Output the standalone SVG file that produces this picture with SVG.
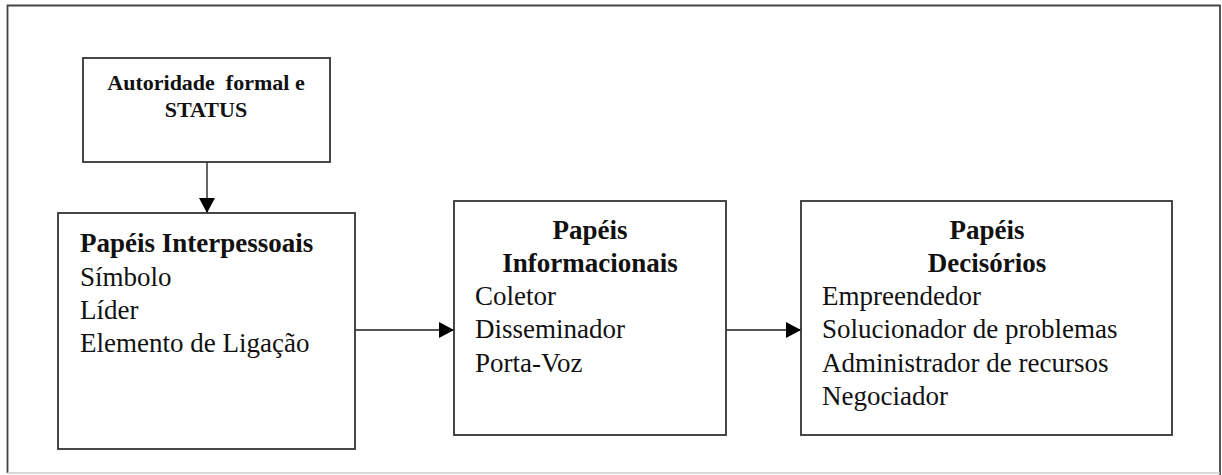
<svg xmlns="http://www.w3.org/2000/svg" width="1222" height="475" viewBox="0 0 1222 475">
<style>
.box{fill:#fff;stroke:#333;stroke-width:1.8}
.frame{fill:none;stroke:#444;stroke-width:1.8}
.t{font-family:"Liberation Serif","Times New Roman",serif;font-size:27px;fill:#111}
.b{font-weight:bold}
.s{font-size:22px}
.c{fill:none;stroke:#555;stroke-width:1.8}
</style>
<defs>
<marker id="ah2" markerWidth="16" markerHeight="16" refX="15" refY="8" orient="auto" markerUnits="userSpaceOnUse" viewBox="0 0 16 16">
<path d="M0,0 L15,8 L0,16 z" fill="#000"/>
</marker>
</defs>
<rect x="0" y="0" width="1222" height="475" fill="#fff"/>
<path class="frame" d="M7.5,473 L7.5,5.5 L1220,5.5 L1220,475"/>
<line x1="7.5" y1="473" x2="1220" y2="473" stroke="#ccc" stroke-width="1.6"/>
<g id="connectors">
<line class="c" x1="207" y1="162" x2="207" y2="213" marker-end="url(#ah2)"/>
<line class="c" x1="355" y1="330" x2="454" y2="330" marker-end="url(#ah2)"/>
<line class="c" x1="726" y1="330" x2="801" y2="330" marker-end="url(#ah2)"/>
</g>
<g id="autoridade">
<rect class="box" x="83" y="58" width="247" height="104"/>
<text class="t b s" x="206" y="90" text-anchor="middle" xml:space="preserve">Autoridade  formal e</text>
<text class="t b s" x="206" y="117" text-anchor="middle">STATUS</text>
</g>
<g id="interpessoais">
<rect class="box" x="58" y="213" width="297" height="236"/>
<text class="t b" x="80" y="252">Papéis Interpessoais</text>
<text class="t" x="80" y="286">Símbolo</text>
<text class="t" x="80" y="319">Líder</text>
<text class="t" x="80" y="352">Elemento de Ligação</text>
</g>
<g id="informacionais">
<rect class="box" x="454" y="201" width="272" height="234"/>
<text class="t b" x="590" y="239" text-anchor="middle">Papéis</text>
<text class="t b" x="590" y="272" text-anchor="middle">Informacionais</text>
<text class="t" x="475" y="305">Coletor</text>
<text class="t" x="475" y="338">Disseminador</text>
<text class="t" x="475" y="372">Porta-Voz</text>
</g>
<g id="decisorios">
<rect class="box" x="801" y="201" width="371" height="234"/>
<text class="t b" x="987" y="239" text-anchor="middle">Papéis</text>
<text class="t b" x="987" y="272" text-anchor="middle">Decisórios</text>
<text class="t" x="822" y="305">Empreendedor</text>
<text class="t" x="822" y="338">Solucionador de problemas</text>
<text class="t" x="822" y="372">Administrador de recursos</text>
<text class="t" x="822" y="405">Negociador</text>
</g>
</svg>
